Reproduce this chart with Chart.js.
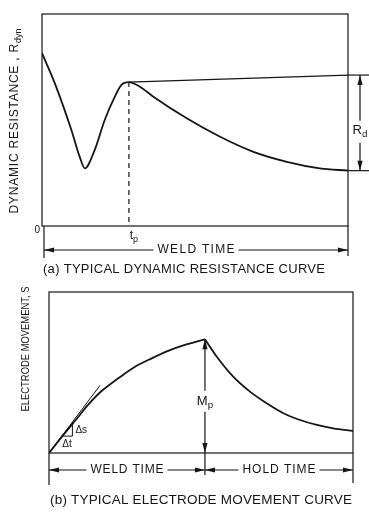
<!DOCTYPE html>
<html>
<head>
<meta charset="utf-8">
<script src="https://cdn.jsdelivr.net/npm/chart.js@4.4.1/dist/chart.umd.min.js"></script>
<style>
  html, body { margin: 0; padding: 0; background: #fff; }
  #resistance, #movement { position: absolute; left: 0; }
  #resistance { top: 0; }
  #movement { top: 285px; }
</style>
</head>
<body>
<canvas id="resistance" width="369" height="285"></canvas>
<canvas id="movement" width="369" height="227"></canvas>
<script>
// (a) dynamic resistance over weld time (arbitrary units, 0..10)
const weldTime = [0, 0.42, 0.96, 1.23, 1.40, 1.72, 2.05, 2.38, 2.59, 2.84, 3.2, 3.64, 4.73, 5.82, 6.91, 8.00, 9.08, 10];
const dynResistance = [8.15, 6.73, 4.53, 3.27, 2.72, 3.58, 5.0, 6.10, 6.65, 6.79, 6.57, 6.10, 5.08, 4.21, 3.50, 3.03, 2.72, 2.61];
const peakTime = 2.84;
const peakRes = 6.79;
const plateauTime = [2.84, 10];
const plateauRes = [6.79, 7.12];

// (b) electrode movement, weld part then hold part
const weldPhaseTime = [0, 0.42, 0.86, 1.29, 1.73, 2.28, 2.83, 3.38, 3.92, 4.47, 5.13];
const weldPhaseMove = [0, 1.0, 2.0, 3.0, 3.85, 4.64, 5.36, 5.88, 6.34, 6.71, 7.06];
const holdPhaseTime = [5.13, 5.52, 6.06, 6.61, 7.16, 7.71, 8.26, 8.81, 9.35, 10];
const holdPhaseMove = [7.06, 5.98, 4.74, 3.81, 3.09, 2.47, 2.05, 1.74, 1.53, 1.37];
const tangentTime = [0, 1.68];
const tangentMove = [0, 4.2];

const ink = '#151515';
const font = '"Liberation Sans", Arial, sans-serif';

const pts = (xs, ys) => xs.map((x, i) => ({ x: x, y: ys[i] }));

function seg(ctx, x1, y1, x2, y2) {
  ctx.beginPath();
  ctx.moveTo(x1, y1);
  ctx.lineTo(x2, y2);
  ctx.stroke();
}

// filled arrow head, tip at (x, y), pointing along (dx, dy)
function head(ctx, x, y, dx, dy) {
  const L = 10, W = 2.6;
  ctx.beginPath();
  ctx.moveTo(x, y);
  ctx.lineTo(x - dx * L - dy * W, y - dy * L + dx * W);
  ctx.lineTo(x - dx * L + dy * W, y - dy * L - dx * W);
  ctx.closePath();
  ctx.fill();
}

// text (optional subscript) centred on (cx, cy); spread or squeezed to width if given
function fitText(ctx, base, sub, cx, cy, size, width) {
  ctx.save();
  ctx.letterSpacing = '0px';
  ctx.font = size + 'px ' + font;
  const wb = ctx.measureText(base).width;
  ctx.font = (size * 0.75) + 'px ' + font;
  const ws = sub ? ctx.measureText(sub).width : 0;
  const natural = wb + ws;
  const target = width || natural;
  const gaps = sub ? base.length : base.length - 1;
  let f = 1, sp = 0;
  if (target > natural && gaps > 0) sp = (target - natural) / gaps;
  else if (target < natural) f = target / natural;
  ctx.translate(cx, cy);
  ctx.scale(f, 1);
  ctx.textAlign = 'left';
  ctx.textBaseline = 'middle';
  const x0 = -(natural + gaps * sp) / 2;
  ctx.letterSpacing = sp + 'px';
  ctx.font = size + 'px ' + font;
  ctx.fillText(base, x0, 0);
  if (sub) {
    ctx.letterSpacing = '0px';
    ctx.font = (size * 0.75) + 'px ' + font;
    ctx.fillText(sub, x0 + wb + base.length * sp, size * 0.3);
  }
  ctx.restore();
}

// horizontal double arrow with a label in the gap
function spanArrow(ctx, x1, x2, y, label, size, width) {
  const cx = (x1 + x2) / 2;
  seg(ctx, x1, y, cx - width / 2 - 4, y);
  seg(ctx, cx + width / 2 + 4, y, x2, y);
  head(ctx, x1, y, -1, 0);
  head(ctx, x2, y, 1, 0);
  fitText(ctx, label, '', cx, y, size, width);
}

function text(ctx, str, x, y, size, align) {
  ctx.font = size + 'px ' + font;
  ctx.textAlign = align || 'center';
  ctx.textBaseline = 'middle';
  ctx.fillText(str, x, y);
}

const lineStyle = { borderColor: ink, borderWidth: 1.8, pointRadius: 0, fill: false, cubicInterpolationMode: 'monotone' };

function baseOptions(padding) {
  return {
    responsive: false,
    devicePixelRatio: 1,
    animation: false,
    layout: { padding: padding },
    plugins: { legend: { display: false }, tooltip: { enabled: false } },
    scales: {
      x: { type: 'linear', min: 0, max: 10, display: false },
      y: { type: 'linear', min: 0, max: 10, display: false }
    }
  };
}

const resistanceNotes = {
  id: 'resistanceNotes',
  afterDraw(chart) {
    const { ctx, chartArea: a, scales: { x, y } } = chart;
    ctx.save();
    ctx.strokeStyle = ink;
    ctx.fillStyle = ink;
    ctx.lineWidth = 1.2;
    ctx.strokeRect(a.left, a.top, a.width, a.height);

    // Rd extension lines and arrow
    const yTop = y.getPixelForValue(plateauRes[1]);
    const yBot = y.getPixelForValue(dynResistance[dynResistance.length - 1]);
    seg(ctx, a.right, yTop, chart.width, yTop);
    seg(ctx, a.right, yBot, chart.width, yBot);
    const xr = a.right + 12;
    const ym = (yTop + yBot) / 2 + 8;
    seg(ctx, xr, yTop, xr, ym - 10);
    seg(ctx, xr, ym + 12, xr, yBot);
    head(ctx, xr, yTop, 0, -1);
    head(ctx, xr, yBot, 0, 1);
    fitText(ctx, 'R', 'd', xr, ym, 13);

    // axis labels under the box
    text(ctx, '0', a.left - 2, a.bottom + 4, 10, 'right');
    const xp = x.getPixelForValue(peakTime);
    fitText(ctx, 't', 'p', xp + 5, a.bottom + 10, 12);

    // weld time span
    seg(ctx, a.left + 2, a.bottom, a.left + 2, a.bottom + 32);
    seg(ctx, a.right, a.bottom, a.right, a.bottom + 30);
    spanArrow(ctx, a.left + 2, a.right, a.bottom + 24, 'WELD TIME', 12, 77);

    fitText(ctx, '(a) TYPICAL DYNAMIC RESISTANCE CURVE', '', 184, a.bottom + 43, 13, 282);

    // y title
    ctx.translate(15, 121);
    ctx.rotate(-Math.PI / 2);
    fitText(ctx, 'DYNAMIC RESISTANCE , R', 'dyn', 0, 0, 12, 185);
    ctx.restore();
  }
};

new Chart(document.getElementById('resistance'), {
  type: 'line',
  data: {
    datasets: [
      Object.assign({ data: pts(weldTime, dynResistance) }, lineStyle),
      { data: pts(plateauTime, plateauRes), borderColor: ink, borderWidth: 1.3, pointRadius: 0 },
      { data: pts([peakTime, peakTime], [peakRes, 0]), borderColor: ink, borderWidth: 1.2, borderDash: [5, 4], pointRadius: 0 }
    ]
  },
  options: baseOptions({ left: 42, right: 21, top: 14, bottom: 59 }),
  plugins: [resistanceNotes]
});

const movementNotes = {
  id: 'movementNotes',
  afterDraw(chart) {
    const { ctx, chartArea: a, scales: { x, y } } = chart;
    ctx.save();
    ctx.strokeStyle = ink;
    ctx.fillStyle = ink;
    ctx.lineWidth = 1.2;
    ctx.strokeRect(a.left, a.top, a.width, a.height);

    // Mp arrow
    const peak = weldPhaseMove[weldPhaseMove.length - 1];
    const xm = x.getPixelForValue(weldPhaseTime[weldPhaseTime.length - 1]);
    const yPeak = y.getPixelForValue(peak);
    const yLab = y.getPixelForValue(peak * 0.45);
    seg(ctx, xm, yPeak, xm, yLab - 11);
    seg(ctx, xm, yLab + 10, xm, a.bottom);
    head(ctx, xm, yPeak, 0, -1);
    head(ctx, xm, a.bottom, 0, 1);
    fitText(ctx, 'M', 'p', xm, yLab, 13);

    // ds / dt triangle on the tangent
    const k = tangentMove[1] / tangentTime[1];
    const t0 = 0.42, t1 = 0.77;
    const px0 = x.getPixelForValue(t0), px1 = x.getPixelForValue(t1);
    const py0 = y.getPixelForValue(k * t0), py1 = y.getPixelForValue(k * t1);
    ctx.lineWidth = 1;
    seg(ctx, px0, py0, px1, py0);
    seg(ctx, px1, py0, px1, py1);
    text(ctx, '\u0394s', px1 + 3, (py0 + py1) / 2 + 1, 10, 'left');
    text(ctx, '\u0394t', (px0 + px1) / 2, py0 + 8, 10, 'center');

    // weld / hold spans
    ctx.lineWidth = 1.2;
    seg(ctx, a.left, a.bottom, a.left, a.bottom + 32);
    seg(ctx, xm, a.bottom, xm, a.bottom + 22);
    seg(ctx, a.right, a.bottom, a.right, a.bottom + 30);
    spanArrow(ctx, a.left, xm, a.bottom + 17, 'WELD TIME', 12, 73);
    spanArrow(ctx, xm, a.right, a.bottom + 17, 'HOLD TIME', 12, 73);

    fitText(ctx, '(b) TYPICAL ELECTRODE MOVEMENT CURVE', '', 201, a.bottom + 47, 13.5, 302);

    ctx.translate(26, 64);
    ctx.rotate(-Math.PI / 2);
    fitText(ctx, 'ELECTRODE MOVEMENT, S', '', 0, 0, 11.5, 125);
    ctx.restore();
  }
};

new Chart(document.getElementById('movement'), {
  type: 'line',
  data: {
    datasets: [
      Object.assign({ data: pts(weldPhaseTime, weldPhaseMove) }, lineStyle),
      Object.assign({ data: pts(holdPhaseTime, holdPhaseMove) }, lineStyle),
      { data: pts(tangentTime, tangentMove), borderColor: ink, borderWidth: 1, pointRadius: 0 }
    ]
  },
  options: baseOptions({ left: 49, right: 16, top: 7, bottom: 59 }),
  plugins: [movementNotes]
});
</script>
</body>
</html>
